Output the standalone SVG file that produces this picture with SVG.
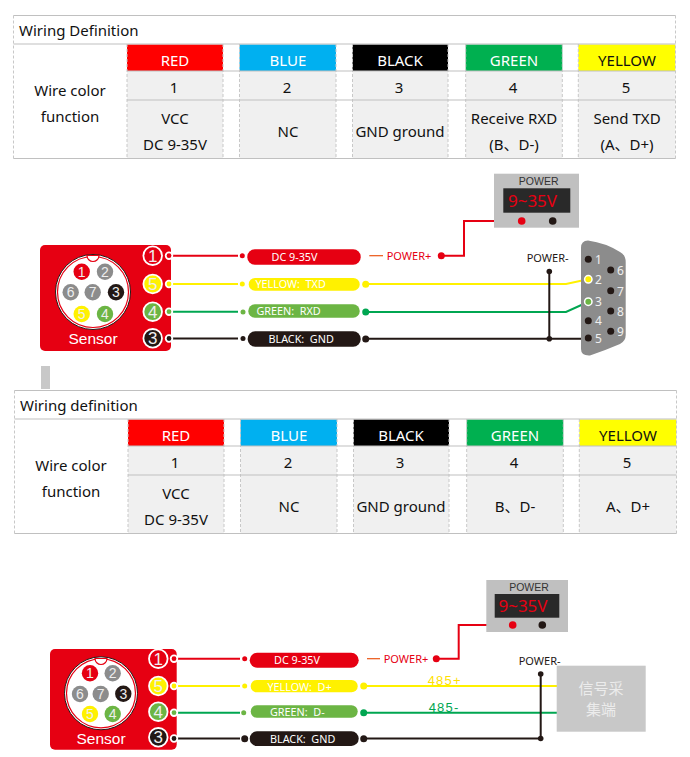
<svg xmlns="http://www.w3.org/2000/svg" width="690" height="757" viewBox="0 0 690 757">
<style>
.t{font-family:"Noto Sans","Noto Sans CJK SC",sans-serif;font-size:15px;fill:#111;text-anchor:middle}
.s{stroke:#c0c0c0;stroke-width:1.2;fill:none}
.d{stroke:#c8c8c8;stroke-width:1;stroke-dasharray:3 2;fill:none}
.g{fill:#f0f0f0}
.a{font-family:"Liberation Sans",sans-serif;text-anchor:middle}
.pl{font-family:"Noto Sans",sans-serif;font-size:10.500px;fill:#fff;text-anchor:middle}
.pn{font-family:"Liberation Sans",sans-serif;font-size:14px;fill:#eee;text-anchor:middle}
.bn{font-family:"Liberation Sans",sans-serif;font-size:17px;fill:#eee;text-anchor:middle}
.ln{font-family:"Noto Sans",sans-serif;font-size:10.800px;fill:#fff;white-space:pre}
.db{font-family:"Noto Sans",sans-serif;font-size:12px;fill:#f0f0f0}
.pw{font-family:"Noto Sans",sans-serif;font-size:11px}
.w{fill:none;stroke-width:2}
.rd{fill:#e60012}.yl{fill:#fff100}.gn{fill:#6cb544}.gy{fill:#8c8c8c}.bk{fill:#231815}
.wrd{stroke:#e60012}.wyl{stroke:#fff100}.wgn{stroke:#00a651}.wbk{stroke:#231815}
.bd{stroke:#fff;stroke-width:1.800}
.nt{fill:#fff;stroke:#e60012;stroke-width:1.200}
.lcd{font-family:"Noto Sans",sans-serif;font-size:17px;fill:#e60012;text-anchor:middle}
</style>
<g id="table1">
<rect class="g" x="127" y="71" width="96" height="87.500"/><rect class="g" x="239.500" y="71" width="96.500" height="87.500"/><rect class="g" x="352.500" y="71" width="95.500" height="87.500"/><rect class="g" x="465.700" y="71" width="96.600" height="87.500"/><rect class="g" x="578.300" y="71" width="97" height="87.500"/>
<rect x="127" y="44.500" width="96" height="26.500" fill="#f00"/><rect x="239.500" y="44.500" width="96.500" height="26.500" fill="#00b0f0"/><rect x="352.500" y="44.500" width="95.500" height="26.500" fill="#000"/><rect x="465.700" y="44.500" width="96.600" height="26.500" fill="#00b050"/><rect x="578.300" y="44.500" width="97" height="26.500" fill="#ff0"/>
<path class="d" d="M13.500 15.500V158.500M127 44V158.500M223 44V158.500M239.500 44V158.500M336 44V158.500M352.500 44V158.500M448 44V158.500M465.700 44V158.500M562.300 44V158.500M578.300 44V158.500M675.500 15.500V158.500"/>
<path class="s" d="M13.500 15.500H675.500M13.500 44H675.500M127 71H675.500M127 100H675.500M13.500 158.500H675.500"/>
<text class="t" x="19" y="36" style="text-anchor:start">Wiring Definition</text>
<text class="t" x="70" y="96">Wire color</text><text class="t" x="70" y="122">function</text>
<text class="t" x="175" y="66" style="fill:#fff">RED</text><text class="t" x="288" y="66" style="fill:#fff">BLUE</text><text class="t" x="400" y="66" style="fill:#fff">BLACK</text><text class="t" x="514" y="66" style="fill:#fff">GREEN</text><text class="t" x="627" y="66">YELLOW</text>
<text class="t" x="174" y="93">1</text><text class="t" x="287" y="93">2</text><text class="t" x="399" y="93">3</text><text class="t" x="513" y="93">4</text><text class="t" x="626" y="93">5</text>
<text class="t" x="175" y="124">VCC</text><text class="t" x="175" y="150">DC 9-35V</text><text class="t" x="288" y="137">NC</text><text class="t" x="400" y="137">GND ground</text><text class="t" x="514" y="124">Receive RXD</text><text class="t" x="514" y="150">(B、D-)</text><text class="t" x="627" y="124">Send TXD</text><text class="t" x="627" y="150">(A、D+)</text>
</g>
<g id="table2" transform="translate(1 375)">
<rect class="g" x="127" y="71" width="96" height="87.500"/><rect class="g" x="239.500" y="71" width="96.500" height="87.500"/><rect class="g" x="352.500" y="71" width="95.500" height="87.500"/><rect class="g" x="465.700" y="71" width="96.600" height="87.500"/><rect class="g" x="578.300" y="71" width="97" height="87.500"/>
<rect x="127" y="44.500" width="96" height="26.500" fill="#f00"/><rect x="239.500" y="44.500" width="96.500" height="26.500" fill="#00b0f0"/><rect x="352.500" y="44.500" width="95.500" height="26.500" fill="#000"/><rect x="465.700" y="44.500" width="96.600" height="26.500" fill="#00b050"/><rect x="578.300" y="44.500" width="97" height="26.500" fill="#ff0"/>
<path class="d" d="M13.500 15.500V158.500M127 44V158.500M223 44V158.500M239.500 44V158.500M336 44V158.500M352.500 44V158.500M448 44V158.500M465.700 44V158.500M562.300 44V158.500M578.300 44V158.500M675.500 15.500V158.500"/>
<path class="s" d="M13.500 15.500H675.500M13.500 44H675.500M127 71H675.500M127 100H675.500M13.500 158.500H675.500"/>
<text class="t" x="19" y="36" style="text-anchor:start">Wiring definition</text>
<text class="t" x="70" y="96">Wire color</text><text class="t" x="70" y="122">function</text>
<text class="t" x="175" y="66" style="fill:#fff">RED</text><text class="t" x="288" y="66" style="fill:#fff">BLUE</text><text class="t" x="400" y="66" style="fill:#fff">BLACK</text><text class="t" x="514" y="66" style="fill:#fff">GREEN</text><text class="t" x="627" y="66">YELLOW</text>
<text class="t" x="174" y="93">1</text><text class="t" x="287" y="93">2</text><text class="t" x="399" y="93">3</text><text class="t" x="513" y="93">4</text><text class="t" x="626" y="93">5</text>
<text class="t" x="175" y="124">VCC</text><text class="t" x="175" y="150">DC 9-35V</text><text class="t" x="288" y="137">NC</text><text class="t" x="400" y="137">GND ground</text><text class="t" x="514" y="137">B、D-</text><text class="t" x="627" y="137">A、D+</text>
</g>
<rect id="gray-mark" x="41" y="366" width="9" height="23" fill="#c8c8c8"/>
<g id="connectors1">
<path class="w wrd" d="M170 255.700H238M441 255.700H464V221H521"/>
<path d="M369.300 255.700H383" fill="none" stroke="#ea5514" stroke-width="1.200"/>
<path class="w wyl" d="M170 284H238M366 284H566L588 279.300"/>
<path class="w wgn" d="M170 311.700H238M366 312H566L588 302"/>
<path class="w wbk" d="M170 338.500H238M366 338.700H588M549.300 271.500V338.700"/>
</g>
<g id="sensor1">
<rect x="40" y="245" width="131" height="106" rx="5" class="rd"/>
<circle cx="93" cy="292" r="37.500" fill="#fff" stroke="#231815" stroke-width="1"/>
<circle cx="93" cy="292" r="35.500" class="nt"/>
<path d="M87 255.500A6 6 0 0 0 99 255.500Z" class="nt"/>
<circle cx="81.700" cy="271.700" r="8.200" class="rd"/><circle cx="105" cy="271.700" r="8.200" class="gy"/><circle cx="70.700" cy="292.300" r="8.200" class="gy"/><circle cx="92.700" cy="292.300" r="8.200" class="gy"/><circle cx="116" cy="292.300" r="8.200" class="bk"/><circle cx="81.700" cy="314" r="8.200" class="yl"/><circle cx="105" cy="314" r="8.200" class="gn"/>
<text class="pn" x="81.700" y="276.800">1</text><text class="pn" x="105" y="276.800">2</text><text class="pn" x="70.700" y="297.400">6</text><text class="pn" x="92.700" y="297.400">7</text><text class="pn" x="116" y="297.400">3</text><text class="pn" x="81.700" y="319.100">5</text><text class="pn" x="105" y="319.100">4</text>
<text class="a" x="93" y="344" font-size="15.500" fill="#fff">Sensor</text>
<circle cx="152.700" cy="255.700" r="9.300" class="rd bd"/><circle cx="152.700" cy="284" r="9.300" class="yl bd"/><circle cx="152.700" cy="311.700" r="9.300" class="gn bd"/><circle cx="152.700" cy="338.300" r="9.300" class="bk bd"/>
<text class="bn" x="152.700" y="261.700">1</text><text class="bn" x="152.700" y="290">5</text><text class="bn" x="152.700" y="317.700">4</text><text class="bn" x="152.700" y="344.300">3</text>
<circle cx="169" cy="255.700" r="3.300" class="rd bd"/><circle cx="169" cy="284" r="3.300" class="yl bd"/><circle cx="169" cy="311.700" r="3.300" class="gn bd"/><circle cx="169" cy="338.500" r="3.300" class="bk bd"/>
</g>
<g id="labels1">
<circle cx="242.300" cy="255.700" r="2.500" class="rd"/><circle cx="242.300" cy="284" r="2.500" class="yl"/><circle cx="243" cy="312" r="2.500" class="gn"/><circle cx="243" cy="338.500" r="2.500" class="bk"/>
<rect x="247.300" y="249.300" width="113.400" height="15.400" rx="7.500" class="rd"/><text class="ln" x="271.500" y="261">DC 9-35V</text>
<rect x="248.700" y="278" width="111" height="12.700" rx="6.300" class="yl"/><text class="ln" x="255.500" y="288">YELLOW:  TXD</text>
<rect x="248.300" y="304.300" width="111.400" height="13.400" rx="6.500" class="gn"/><text class="ln" x="256.500" y="314.500">GREEN:  RXD</text>
<rect x="247.700" y="331.300" width="113" height="15.400" rx="7.500" class="bk"/><text class="ln" x="268.500" y="343">BLACK:  GND</text>
<circle cx="365.700" cy="284.300" r="3.500" class="yl"/><circle cx="365.700" cy="312" r="3.500" fill="#00a651"/><circle cx="365.700" cy="339" r="3.500" class="bk"/>
<text class="pw" x="386.700" y="259.500" fill="#e60012">POWER+</text>
<circle cx="441.300" cy="255.700" r="3.500" class="rd"/>
<text class="pw" x="526.700" y="262" fill="#231815">POWER-</text>
<circle cx="549.300" cy="271.500" r="2.800" class="bk"/><circle cx="549.300" cy="338.700" r="2.800" class="bk"/>
</g>
<g id="power1">
<rect x="494" y="173.700" width="85" height="54" fill="#c0c0c0"/>
<text class="a" x="538.700" y="185" font-size="10.500" fill="#333">POWER</text>
<rect x="503.300" y="188.300" width="67" height="24.400" fill="#292929"/>
<text class="lcd" x="532.500" y="206.500">9~35V</text>
<circle cx="521.700" cy="221" r="3.800" class="rd"/><circle cx="552.700" cy="221" r="3.800" class="bk"/>
</g>
<g id="db9">
<path d="M581 248Q581 240.500 588 240.500Q606 243 620 252Q625.700 255 625.700 262V335Q625.700 341 620 344Q606 350 590 355.500Q581 356 581 349Z" fill="#8c8c8c"/>
<circle cx="588.300" cy="259.300" r="3.500" class="bk"/><circle cx="588.300" cy="279.300" r="3.700" class="yl" stroke="#fff" stroke-width="1.500"/><circle cx="588.300" cy="301.700" r="3.700" class="gn" stroke="#fff" stroke-width="1.500"/><circle cx="588.300" cy="320.700" r="3.500" class="bk"/><circle cx="588.300" cy="338" r="3.500" class="bk"/>
<circle cx="610.700" cy="270" r="3.500" class="bk"/><circle cx="610.700" cy="290.700" r="3.500" class="bk"/><circle cx="610.700" cy="311" r="3.500" class="bk"/><circle cx="610.700" cy="331.300" r="3.500" class="bk"/>
<text class="db" x="595" y="263.500">1</text><text class="db" x="595" y="283.500">2</text><text class="db" x="595" y="305.500">3</text><text class="db" x="595" y="324.500">4</text><text class="db" x="595" y="342.500">5</text>
<text class="db" x="617" y="274.500">6</text><text class="db" x="617" y="295.500">7</text><text class="db" x="617" y="315.500">8</text><text class="db" x="617" y="335.500">9</text>
</g>
<g id="connectors2">
<path class="w wrd" d="M175 658.700H240M436 658.700H458.700V625H512"/>
<path d="M367 658.700H380" fill="none" stroke="#ea5514" stroke-width="1.200"/>
<path class="w wyl" d="M175 686H240M364 686H557"/>
<path class="w wgn" d="M175 712.700H240M364 712.700H557"/>
<path class="w wbk" d="M175 738.500H240M364 738.500H540.700M540.700 674V738.500"/>
</g>
<g id="sensor2">
<rect x="50" y="649" width="126.700" height="100.700" rx="5" class="rd"/>
<circle cx="101" cy="693.300" r="36.500" fill="#fff" stroke="#231815" stroke-width="1"/>
<circle cx="101" cy="693.300" r="34.500" class="nt"/>
<path d="M95 658.500A6 6 0 0 0 107 658.500Z" class="nt"/>
<circle cx="90" cy="673.300" r="8.200" class="rd"/><circle cx="112.700" cy="673.300" r="8.200" class="gy"/><circle cx="80" cy="694" r="8.200" class="gy"/><circle cx="100.700" cy="694" r="8.200" class="gy"/><circle cx="123.300" cy="693.700" r="8.200" class="bk"/><circle cx="90" cy="714" r="8.200" class="yl"/><circle cx="112.700" cy="714" r="8.200" class="gn"/>
<text class="pn" x="90" y="678.400">1</text><text class="pn" x="112.700" y="678.400">2</text><text class="pn" x="80" y="699.100">6</text><text class="pn" x="100.700" y="699.100">7</text><text class="pn" x="123.300" y="698.800">3</text><text class="pn" x="90" y="719.100">5</text><text class="pn" x="112.700" y="719.100">4</text>
<text class="a" x="101" y="744" font-size="15.500" fill="#fff">Sensor</text>
<circle cx="158.300" cy="658.700" r="9.300" class="rd bd"/><circle cx="158.300" cy="686" r="9.300" class="yl bd"/><circle cx="158.300" cy="711.700" r="9.300" class="gn bd"/><circle cx="158.300" cy="737.300" r="9.300" class="bk bd"/>
<text class="bn" x="158.300" y="664.700">1</text><text class="bn" x="158.300" y="692">5</text><text class="bn" x="158.300" y="717.700">4</text><text class="bn" x="158.300" y="743.300">3</text>
<circle cx="174" cy="658.700" r="3.300" class="rd bd"/><circle cx="174" cy="686" r="3.300" class="yl bd"/><circle cx="174" cy="712.700" r="3.300" class="gn bd"/><circle cx="174" cy="738.500" r="3.300" class="bk bd"/>
</g>
<g id="labels2">
<circle cx="244.700" cy="658.700" r="2.500" class="rd"/><circle cx="244.700" cy="686" r="2.500" class="yl"/><circle cx="243.700" cy="712.700" r="2.500" class="gn"/><circle cx="244.700" cy="738.700" r="3.500" class="bk"/>
<rect x="249.700" y="652.700" width="109" height="15" rx="7.500" class="rd"/><text class="ln" x="274" y="664">DC 9-35V</text>
<rect x="250.700" y="680" width="107" height="12.300" rx="6.100" class="yl"/><text class="ln" x="267.500" y="690.500">YELLOW:  D+</text>
<rect x="250.700" y="705.300" width="107" height="12.400" rx="6.200" class="gn"/><text class="ln" x="270" y="715.500">GREEN:  D-</text>
<rect x="249.700" y="731.300" width="109" height="14.700" rx="7.300" class="bk"/><text class="ln" x="270" y="742.500">BLACK:  GND</text>
<circle cx="363.700" cy="686" r="3.500" class="yl"/><circle cx="363.700" cy="712.700" r="3.500" fill="#00a651"/><circle cx="363.700" cy="738.700" r="3.500" class="bk"/>
<text class="pw" x="383.700" y="662.500" fill="#e60012">POWER+</text>
<circle cx="436.300" cy="658.700" r="3.500" class="rd"/>
<text class="pw" x="518.700" y="665" fill="#231815">POWER-</text>
<circle cx="540.700" cy="674" r="2.800" class="bk"/><circle cx="540.700" cy="738.500" r="2.800" class="bk"/>
<text class="a" x="427.700" y="685" font-size="13" letter-spacing="1.200" style="text-anchor:start" fill="#ffe100">485+</text>
<text class="a" x="428.700" y="711.500" font-size="13" letter-spacing="1.200" style="text-anchor:start" fill="#00a651">485-</text>
</g>
<g id="power2">
<rect x="486.300" y="580" width="81.700" height="52" fill="#c0c0c0"/>
<text class="a" x="529" y="591" font-size="10.500" fill="#333">POWER</text>
<rect x="494.700" y="594" width="64.600" height="23.700" fill="#292929"/>
<text class="lcd" x="523" y="611.500">9~35V</text>
<circle cx="512.700" cy="625" r="3.800" class="rd"/><circle cx="542.300" cy="625" r="3.800" class="bk"/>
</g>
<g id="collector">
<rect x="556.700" y="665.700" width="89" height="66" fill="#c8c8c8"/>
<text x="601" y="694" font-family="'Noto Sans CJK SC',sans-serif" font-size="15" fill="#ececec" text-anchor="middle">信号采</text>
<text x="601" y="715" font-family="'Noto Sans CJK SC',sans-serif" font-size="15" fill="#ececec" text-anchor="middle">集端</text>
</g>
</svg>
